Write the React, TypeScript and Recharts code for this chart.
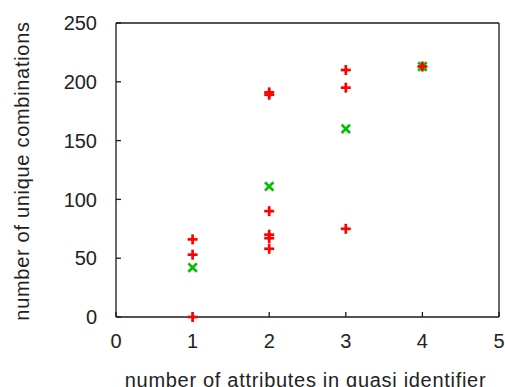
import React from 'react';
import { ScatterChart, Scatter, XAxis, YAxis } from 'recharts';

const redX = [1, 1, 1, 2, 2, 2, 2, 2, 2, 3, 3, 3, 4];
const redY = [66, 53, 0, 191, 189, 90, 70, 67, 58, 210, 195, 75, 213];
const greenX = [1, 2, 3, 4];
const greenY = [42, 111, 160, 213];
const xTicks = [0, 1, 2, 3, 4, 5];
const yTicks = [0, 50, 100, 150, 200, 250];
const xTitle = 'number of attributes in quasi identifier';
const yTitle = 'number of unique combinations';

const redData = redX.map((x, i) => ({ x, y: redY[i] }));
const greenData = greenX.map((x, i) => ({ x, y: greenY[i] }));

const FONT = '"Liberation Sans", Arial, Helvetica, sans-serif';
const TEXT = '#222';
const AXIS = '#1a1a1a';

const Plus = (p: any) => {
  const { cx, cy } = p;
  if (cx == null || cy == null) return null;
  const r = 5;
  return (
    <g stroke="#ff0000" strokeWidth={2.7} fill="none">
      <line x1={cx - r} y1={cy} x2={cx + r} y2={cy} />
      <line x1={cx} y1={cy - r} x2={cx} y2={cy + r} />
    </g>
  );
};

const Cross = (p: any) => {
  const { cx, cy } = p;
  if (cx == null || cy == null) return null;
  const r = 4.2;
  return (
    <g stroke="#00c000" strokeWidth={2.7} fill="none">
      <line x1={cx - r} y1={cy - r} x2={cx + r} y2={cy + r} />
      <line x1={cx - r} y1={cy + r} x2={cx + r} y2={cy - r} />
    </g>
  );
};

const XTitle = (props: any) => {
  const vb = props.viewBox || { x: 116, y: 317, width: 383, height: 70 };
  const x = vb.x + vb.width / 2 - 2;
  const y = vb.y + vb.height - 0.5;
  return (
    <text x={x} y={y} textAnchor="middle" fill={TEXT} fontSize={20} fontFamily={FONT} letterSpacing={0.7}>
      {xTitle}
    </text>
  );
};

const YTitle = (props: any) => {
  const vb = props.viewBox || { x: 0, y: 23, width: 116, height: 294 };
  const x = vb.x + 28.5;
  const y = vb.y + vb.height / 2 + 1;
  return (
    <text x={x} y={y} transform={`rotate(-90 ${x} ${y})`} textAnchor="middle" fill={TEXT} fontSize={20} fontFamily={FONT} letterSpacing={0.7}>
      {yTitle}
    </text>
  );
};

const tickStyle = { fill: TEXT, fontSize: 20, fontFamily: FONT };

export default function App() {
  return (
    <div style={{ position: 'absolute', left: 0, top: 0, background: '#fff' }}>
      <ScatterChart width={505} height={387} margin={{ top: 22, right: 5, bottom: 0, left: 0 }}>
        <XAxis
          xAxisId="b"
          dataKey="x"
          type="number"
          domain={[0, 5]}
          ticks={xTicks}
          height={70}
          tickSize={-5}
          tickMargin={22}
          stroke={AXIS}
          strokeWidth={1.3}
          tick={tickStyle}
          label={<XTitle />}
        />
        <XAxis
          xAxisId="t"
          dataKey="x"
          type="number"
          orientation="top"
          domain={[0, 5]}
          ticks={xTicks}
          height={1}
          tick={false}
          tickSize={-5}
          stroke={AXIS}
          strokeWidth={1.3}
        />
        <YAxis
          yAxisId="l"
          dataKey="y"
          type="number"
          domain={[0, 250]}
          ticks={yTicks}
          width={116}
          tickSize={-5}
          tickMargin={24}
          stroke={AXIS}
          strokeWidth={1.3}
          tick={tickStyle}
          label={<YTitle />}
        />
        <YAxis
          yAxisId="r"
          dataKey="y"
          type="number"
          orientation="right"
          domain={[0, 250]}
          ticks={yTicks}
          width={1}
          tick={false}
          tickSize={-5}
          stroke={AXIS}
          strokeWidth={1.3}
        />
        <Scatter data={greenData} xAxisId="t" yAxisId="r" shape={<Cross />} isAnimationActive={false} />
        <Scatter data={redData} xAxisId="b" yAxisId="l" shape={<Plus />} isAnimationActive={false} />
      </ScatterChart>
    </div>
  );
}
